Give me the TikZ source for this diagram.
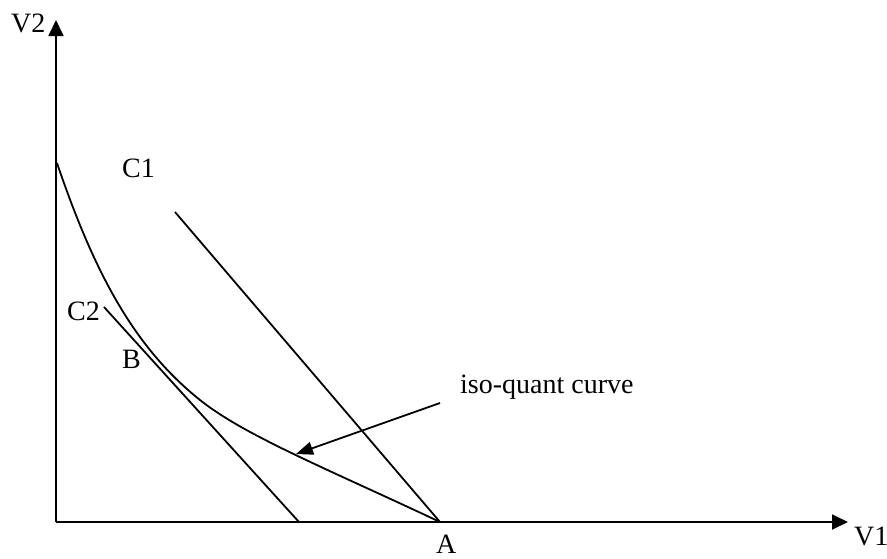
\documentclass[tikz,border=0pt]{standalone}
\usepackage{fontspec}
\setmainfont{Liberation Serif}
\usetikzlibrary{arrows.meta}
\begin{document}
\begin{tikzpicture}[x=1pt,y=-1pt,
  lbl/.style={anchor=base west,inner sep=0pt,font=\fontsize{28}{34}\selectfont},
  ln/.style={line width=1.8pt},
  axisarrow/.style={ln,-{Triangle[length=16pt,width=15pt]}},
  ptr/.style={ln,-{Triangle[length=17pt,width=13pt]}}]
\useasboundingbox (0,0) rectangle (887,558);
% axes
\coordinate (O) at (56,522);
\coordinate (Ytop) at (56,20);
\coordinate (Xend) at (848,522);
\draw[axisarrow] (O) -- (Ytop);
\draw[axisarrow] (O) -- (Xend);
% points
\coordinate (A) at (440,522);
\coordinate (C1s) at (175,212);
\coordinate (C2s) at (104,307);
\coordinate (C2e) at (299,522);
\draw[ln] (C1s) -- (A);
\draw[ln] (C2s) -- (C2e);
% iso-quant curve
\coordinate (Q0) at (57,163);
\draw[ln,line join=round] (Q0) .. controls (95,275) and (135,348) .. (200,400)
  .. controls (245,436) and (330,470) .. (A);
% labels
\node[lbl] (v2) at (11,32) {V2};
\node[lbl] (v1) at (854,545) {V1};
\node[lbl] (a) at (436,553) {A};
\node[lbl] (c1) at (122,177) {C1};
\node[lbl] (c2) at (67,320) {C2};
\node[lbl] (b) at (122,368) {B};
\node[lbl] (iso) at (460,393) {iso-quant curve};
\coordinate (Ps) at (440,403);
\coordinate (Pt) at (296,454);
\draw[ptr] (Ps) -- (Pt);
\end{tikzpicture}
\end{document}
